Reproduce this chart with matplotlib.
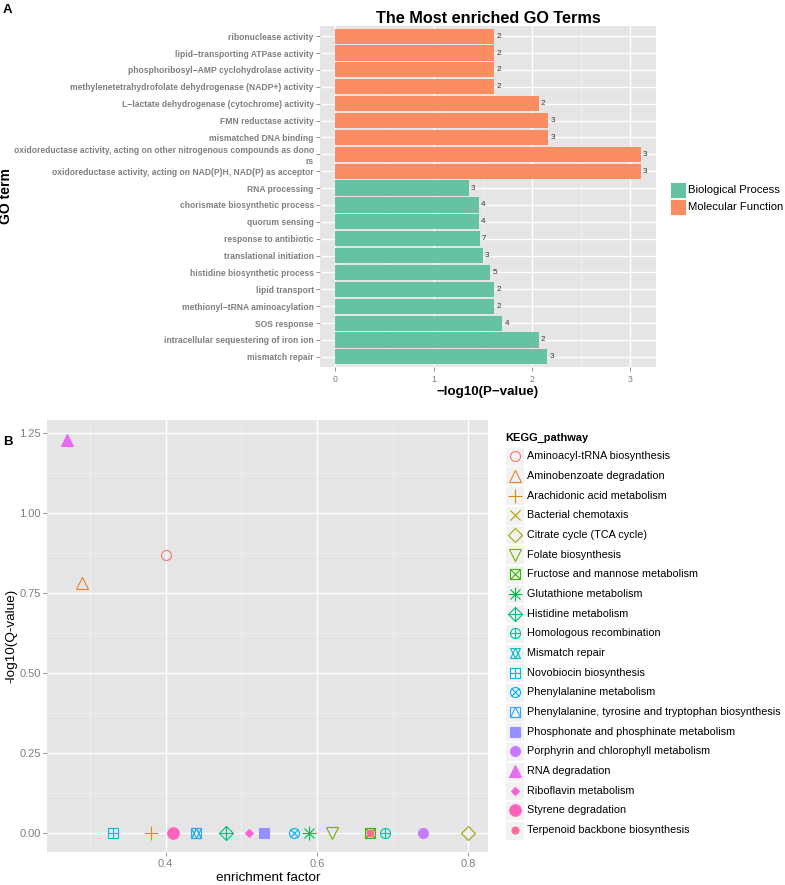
import numpy as np
import matplotlib
matplotlib.use("Agg")
import matplotlib.pyplot as plt
from matplotlib.patches import Rectangle

plt.rcParams['font.family'] = ['Liberation Sans', 'DejaVu Sans']

# ---- panel A: GO terms, listed top to bottom as they appear
go_terms = [
    "ribonuclease activity",
    "lipid\u2212transporting ATPase activity",
    "phosphoribosyl\u2212AMP cyclohydrolase activity",
    "methylenetetrahydrofolate dehydrogenase (NADP+) activity",
    "L\u2212lactate dehydrogenase (cytochrome) activity",
    "FMN reductase activity",
    "mismatched DNA binding",
    "oxidoreductase activity, acting on other nitrogenous compounds as dono\nrs",
    "oxidoreductase activity, acting on NAD(P)H, NAD(P) as acceptor",
    "RNA processing",
    "chorismate biosynthetic process",
    "quorum sensing",
    "response to antibiotic",
    "translational initiation",
    "histidine biosynthetic process",
    "lipid transport",
    "methionyl\u2212tRNA aminoacylation",
    "SOS response",
    "intracellular sequestering of iron ion",
    "mismatch repair",
]
go_logp = [1.62, 1.62, 1.62, 1.62, 2.07, 2.17, 2.17, 3.11, 3.11,
           1.36, 1.46, 1.46, 1.47, 1.50, 1.58, 1.62, 1.62, 1.70, 2.07, 2.16]
go_count = [2, 2, 2, 2, 2, 3, 3, 3, 3, 3, 4, 4, 7, 3, 5, 2, 2, 4, 2, 3]
go_class = ["Molecular Function"] * 9 + ["Biological Process"] * 11
class_names = ["Biological Process", "Molecular Function"]
class_colors = {"Biological Process": "#66C2A5", "Molecular Function": "#FC8D62"}

# ---- panel B: KEGG pathways
kegg_pathway = [
    "Aminoacyl-tRNA biosynthesis",
    "Aminobenzoate degradation",
    "Arachidonic acid metabolism",
    "Bacterial chemotaxis",
    "Citrate cycle (TCA cycle)",
    "Folate biosynthesis",
    "Fructose and mannose metabolism",
    "Glutathione metabolism",
    "Histidine metabolism",
    "Homologous recombination",
    "Mismatch repair",
    "Novobiocin biosynthesis",
    "Phenylalanine metabolism",
    "Phenylalanine, tyrosine and tryptophan biosynthesis",
    "Phosphonate and phosphinate metabolism",
    "Porphyrin and chlorophyll metabolism",
    "RNA degradation",
    "Riboflavin metabolism",
    "Styrene degradation",
    "Terpenoid backbone biosynthesis",
]
kegg_factor = [0.40, 0.29, 0.38, 0.67, 0.80, 0.62, 0.67, 0.59, 0.48, 0.69,
               0.44, 0.33, 0.57, 0.44, 0.53, 0.74, 0.27, 0.51, 0.41, 0.67]
kegg_q = [0.87, 0.78, 0, 0, 0, 0, 0, 0, 0, 0,
          0, 0, 0, 0, 0, 0, 1.23, 0, 0, 0]


def hue_pal(n, l=65, c=100, h0=15, h1=375):
    # ggplot2 default discrete colours (HCL -> sRGB)
    hues = np.linspace(h0, h1, n + 1)[:-1]
    Xn, Yn, Zn = 95.047, 100.0, 108.883
    un = 4 * Xn / (Xn + 15 * Yn + 3 * Zn)
    vn = 9 * Yn / (Xn + 15 * Yn + 3 * Zn)
    M = np.array([[3.240479, -1.537150, -0.498535],
                  [-0.969256, 1.875992, 0.041556],
                  [0.055648, -0.204043, 1.057311]])
    out = []
    for h in hues:
        u = c * np.cos(np.radians(h))
        v = c * np.sin(np.radians(h))
        Y = Yn * ((l + 16) / 116) ** 3
        up = u / (13 * l) + un
        vp = v / (13 * l) + vn
        X = 9 * Y * up / (4 * vp)
        Z = -X / 3 - 5 * Y + 3 * Y / vp
        rgb = M @ np.array([X, Y, Z]) / 100
        rgb = np.where(rgb > 0.0031308, 1.055 * np.abs(rgb) ** (1 / 2.4) - 0.055, 12.92 * rgb)
        out.append(tuple(np.clip(rgb, 0, 1)))
    return out


# R pch 1..20 built from matplotlib markers: (marker, scale, filled)
PCH = {
    1: [('o', 1.0, False)],
    2: [('^', 1.15, False)],
    3: [('+', 1.35, False)],
    4: [('x', 1.0, False)],
    5: [('D', 0.95, False)],
    6: [('v', 1.15, False)],
    7: [('s', 1.0, False), ('x', 1.0, False)],
    8: [('+', 1.3, False), ('x', 0.95, False)],
    9: [('D', 0.95, False), ('+', 1.34, False)],
    10: [('o', 1.0, False), ('+', 1.0, False)],
    11: [('^', 1.0, False), ('v', 1.0, False)],
    12: [('s', 1.0, False), ('+', 1.0, False)],
    13: [('o', 1.0, False), ('x', 0.707, False)],
    14: [('s', 1.0, False), ('^', 1.0, False)],
    15: [('s', 0.95, True)],
    16: [('o', 1.0, True)],
    17: [('^', 1.25, True)],
    18: [('D', 0.6, True)],
    19: [('o', 1.15, True)],
    20: [('o', 0.7, True)],
}


def draw_pch(ax, x, y, pch, color, ms=7.2, zorder=3):
    for mk, sc, filled in PCH[pch]:
        ax.plot([x], [y], ls='none', marker=mk, ms=ms * sc,
                mfc=color if filled else 'none', mec=color,
                mew=0.8, zorder=zorder, clip_on=False)


W, H = 785, 885
fig = plt.figure(figsize=(W / 100, H / 100), dpi=100)

bg = '#E5E5E5'
grid_minor = '#F2F2F2'
tick_col = '#7F7F7F'

# ---------------- panel A
ax1 = fig.add_axes([320 / W, 1 - 367 / H, 336 / W, 341 / H])
ax1.set_facecolor(bg)
n = len(go_terms)
ypos = np.arange(n)[::-1]
ax1.barh(ypos, go_logp, height=0.9,
         color=[class_colors[c] for c in go_class], zorder=2)
for yv, v, cnt in zip(ypos, go_logp, go_count):
    ax1.annotate(str(cnt), (v, yv), xytext=(1.5, 0), textcoords='offset points',
                 ha='left', va='center', fontsize=5.8, color='#333333', zorder=3)
ax1.set_xlim(-0.156, 3.266)
ax1.set_ylim(-0.6, n - 0.4)
ax1.set_xticks([0, 1, 2, 3])
ax1.set_xticks([0.5, 1.5, 2.5], minor=True)
ax1.set_yticks(ypos)
ax1.set_yticklabels(go_terms)
for lab in ax1.get_yticklabels():
    lab.set_fontweight('bold')
ax1.grid(which='major', color='white', lw=1.0, zorder=0)
ax1.grid(which='minor', axis='x', color=grid_minor, lw=0.5, zorder=0)
ax1.set_axisbelow(True)
for s in ax1.spines.values():
    s.set_visible(False)
ax1.tick_params(axis='both', which='major', length=3, width=0.6, color=tick_col,
                labelcolor=tick_col, pad=1.5)
ax1.tick_params(axis='y', labelsize=6.15)
ax1.tick_params(axis='x', labelsize=6.3, pad=2.5)
ax1.tick_params(which='minor', length=0)
ax1.set_title("The Most enriched GO Terms", fontsize=11.7, fontweight='bold', pad=2)
ax1.set_xlabel("\u2212log10(P\u2212value)", fontsize=9.6, fontweight='bold', labelpad=1.5)
ax1.set_ylabel("GO term", fontsize=10, fontweight='bold')
ax1.yaxis.set_label_coords(-0.913, 0.5)

# ---------------- panel B
cols = hue_pal(len(kegg_pathway))
ax2 = fig.add_axes([47.3 / W, 1 - 852.3 / H, 441 / W, 432.3 / H])
ax2.set_facecolor(bg)
for i, (xv, yv) in enumerate(zip(kegg_factor, kegg_q)):
    draw_pch(ax2, xv, yv, i + 1, cols[i])
ax2.set_xlim(0.2435, 0.8265)
ax2.set_ylim(-0.0615, 1.2915)
ax2.set_xticks([0.4, 0.6, 0.8])
ax2.set_xticks([0.3, 0.5, 0.7], minor=True)
ax2.set_yticks([0, 0.25, 0.5, 0.75, 1.0, 1.25])
ax2.set_yticklabels(["0.00", "0.25", "0.50", "0.75", "1.00", "1.25"])
ax2.set_yticks([0.125, 0.375, 0.625, 0.875, 1.125], minor=True)
ax2.grid(which='major', color='white', lw=1.0, zorder=0)
ax2.grid(which='minor', color=grid_minor, lw=0.5, zorder=0)
ax2.set_axisbelow(True)
for s in ax2.spines.values():
    s.set_visible(False)
ax2.tick_params(which='major', length=3, width=0.6, color=tick_col,
                labelcolor=tick_col, labelsize=8, pad=1.5)
ax2.tick_params(which='minor', length=0)
ax2.set_xlabel("enrichment factor", fontsize=9.7, labelpad=2.5)
ax2.set_ylabel("-log10(Q-value)", fontsize=9.7, labelpad=1.5)

# ---------------- overlay in pixel coordinates: panel letters and legends
ov = fig.add_axes([0, 0, 1, 1], zorder=5)
ov.set_xlim(0, W)
ov.set_ylim(H, 0)
ov.axis('off')
ov.patch.set_visible(False)
ov.text(3, 10, "A", fontsize=9.5, fontweight='bold', va='center', ha='left')
ov.text(3, 442, "B", fontsize=9.5, fontweight='bold', va='center', ha='left')

# panel A legend
for k, name in enumerate(class_names):
    yc = 190.3 + k * 16.7
    ov.add_patch(Rectangle((669.5, yc - 8), 16, 16, facecolor=class_colors[name],
                           edgecolor='white', lw=0.6))
    ov.text(688, yc, name, fontsize=8.1, va='center', ha='left')

# panel B legend
ov.text(505, 438, "KEGG_pathway", fontsize=7.9, fontweight='bold', va='center', ha='left')
for i, name in enumerate(kegg_pathway):
    yc = 456.3 + i * 19.67
    ov.add_patch(Rectangle((505, yc - 9.5), 19, 19, facecolor=grid_minor,
                           edgecolor='white', lw=0.6))
    draw_pch(ov, 514.5, yc, i + 1, cols[i], zorder=6)
    ov.text(527, yc, name, fontsize=7.8, va='center', ha='left')

fig.savefig("out.png", dpi=100)
